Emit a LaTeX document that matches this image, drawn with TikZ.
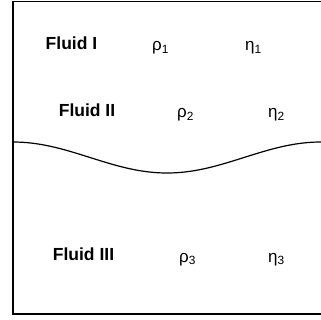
\documentclass[tikz,border=0pt]{standalone}
\usepackage{fontspec}
\setmainfont{Liberation Sans}
\usepackage{tikz}
\usetikzlibrary{positioning}

\begin{document}
\begin{tikzpicture}[x=1pt, y=-1pt,
  fluidname/.style={font=\fontsize{17.5}{20}\selectfont\bfseries, anchor=base, inner sep=0pt},
  prop/.style={font=\fontsize{17}{20}\selectfont, anchor=base west, inner sep=0pt}]
\useasboundingbox (0,0) rectangle (321,320);
% container walls (right side open)
\draw[line width=0.8pt] (13,1) -- (321,1);
\draw[line width=1.6pt] (13,1) -- (13,314) -- (321,314);
% interface
\draw[line width=1.2pt] plot[domain=13:321, samples=80, smooth]
  (\x, {157.5-15.5*cos((\x-13)*1.168831)});
% labels
\node[fluidname] (f1) at (71.5,50) {Fluid I};
\node[prop] (rho1) at (152,51) {ρ\textsubscript{1}};
\node[prop] (eta1) at (245,51) {η\textsubscript{1}};
\node[fluidname] (f2) at (87,117) {Fluid II};
\node[prop] (rho2) at (177,118) {ρ\textsubscript{2}};
\node[prop] (eta2) at (268,118) {η\textsubscript{2}};
\node[fluidname] (f3) at (83.5,261) {Fluid III};
\node[prop] (rho3) at (179,262) {ρ\textsubscript{3}};
\node[prop] (eta3) at (268,262) {η\textsubscript{3}};
\end{tikzpicture}
\end{document}
